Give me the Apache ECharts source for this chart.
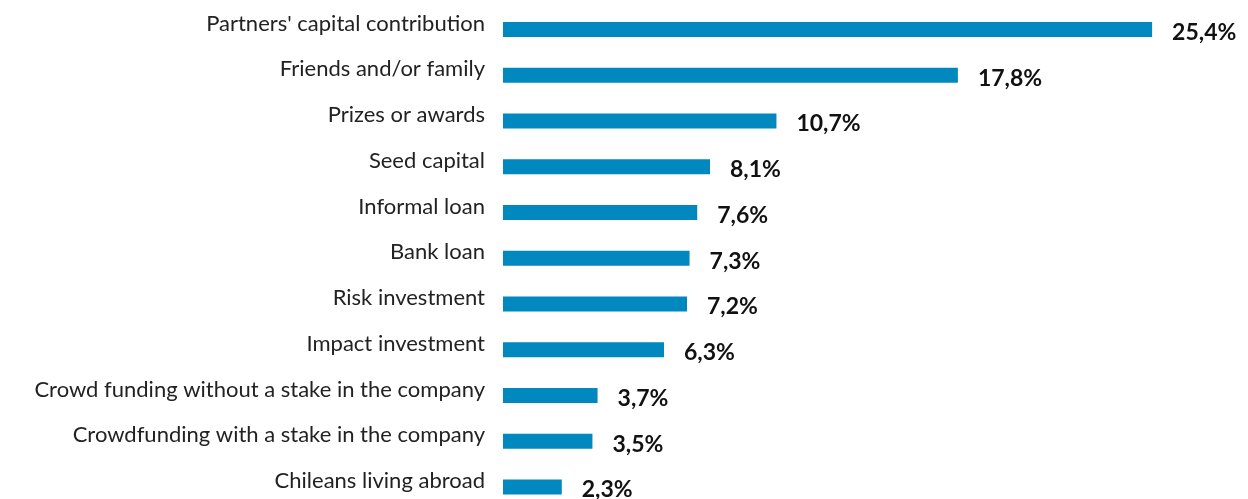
<!DOCTYPE html>
<html>
<head>
<meta charset="utf-8">
<script src="https://cdn.jsdelivr.net/npm/echarts@6/dist/echarts.min.js"></script>
<style>
  html, body { margin: 0; padding: 0; background: #fff; }
  #chart { width: 1248px; height: 499px; }
</style>
</head>
<body>
<div id="chart"></div>
<script>
// funding sources, top to bottom as in the picture
const categories = [
  "Partners' capital contribution",
  'Friends and/or family',
  'Prizes or awards',
  'Seed capital',
  'Informal loan',
  'Bank loan',
  'Risk investment',
  'Impact investment',
  'Crowd funding without a stake in the company',
  'Crowdfunding with a stake in the company',
  'Chileans living abroad'
];
const shares = [25.4, 17.8, 10.7, 8.1, 7.6, 7.3, 7.2, 6.3, 3.7, 3.5, 2.3];

const chart = echarts.init(document.getElementById('chart'), null, { renderer: 'canvas' });

const option = {
  animation: false,
  // category centres run from the top edge to the bottom edge of the grid
  grid: { left: 503, right: 55, top: 29.5, bottom: 12 },
  xAxis: {
    type: 'value',
    min: 0,
    max: 27,
    show: false
  },
  yAxis: {
    type: 'category',
    inverse: true,
    boundaryGap: false,
    data: categories,
    axisLine: { show: false },
    axisTick: { show: false },
    axisLabel: {
      margin: 18,
      formatter: v => '{c|' + v + '}',
      rich: {
        c: {
          color: '#222',
          fontFamily: 'Lato',
          fontSize: 22,
          padding: [0, 0, 12, 0]
        }
      }
    }
  },
  series: [{
    type: 'bar',
    data: shares,
    barWidth: 15,
    itemStyle: { color: '#0088bf' },
    label: {
      show: true,
      position: 'right',
      distance: 20,
      offset: [0, 3],
      color: '#111',
      fontFamily: 'Lato',
      fontWeight: 'bold',
      fontSize: 23,
      formatter: p => p.value.toFixed(1).replace('.', ',') + '%'
    }
  }]
};

chart.setOption(option);
window.addEventListener('resize', chart.resize);
</script>
</body>
</html>
